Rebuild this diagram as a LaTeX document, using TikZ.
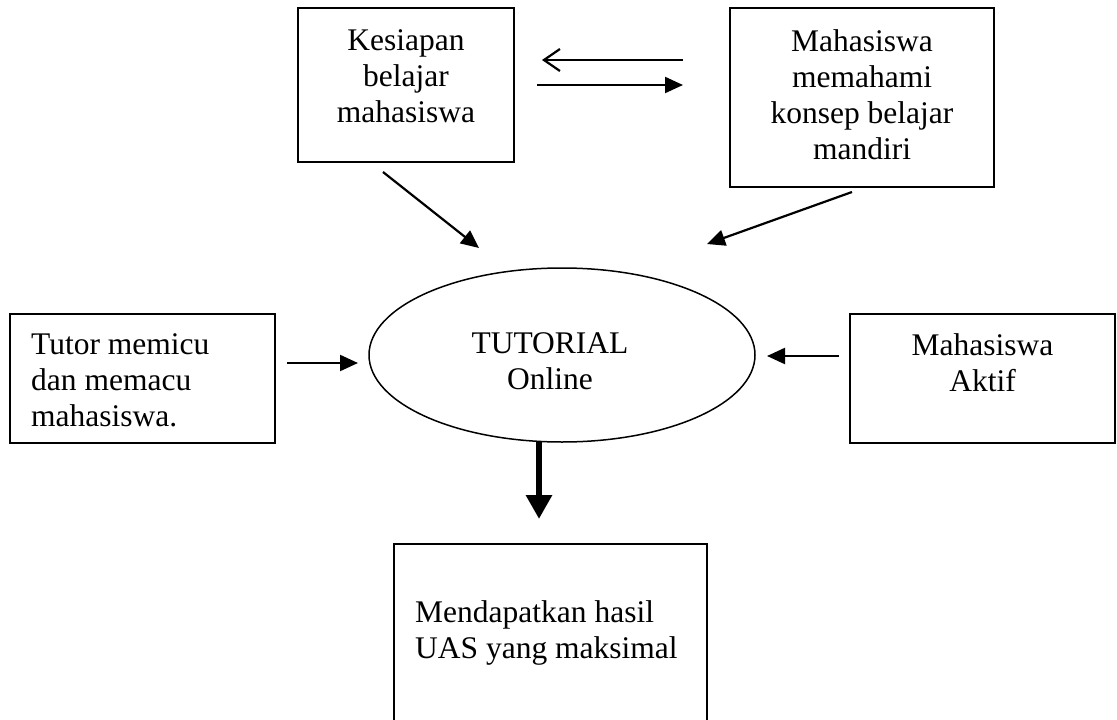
\documentclass[tikz,border=0pt]{standalone}
\usepackage{fontspec}
\setmainfont{Liberation Serif}
\usetikzlibrary{shapes.geometric,arrows.meta}
\begin{document}
\begin{tikzpicture}[x=1pt,y=-1pt,
  boxnode/.style={draw,line width=1.4pt,inner sep=0pt,rectangle},
  txt/.style={inner sep=0pt,font=\fontsize{31.5}{36}\selectfont},
  conn/.style={line width=2.2pt,-{Triangle[length=18pt,width=16pt]}},
  openconn/.style={line width=2.2pt,-{Straight Barb[length=16pt,width=22pt,line width=2.2pt]}},
  thickconn/.style={line width=6pt,-{Triangle[length=24pt,width=25pt]}}]
\useasboundingbox (0,0) rectangle (1117,720);
\clip (0,0) rectangle (1117,720);
% boxes
\node[boxnode,minimum width=216pt,minimum height=154pt] (b1) at (406,85) {};
\node[boxnode,minimum width=264pt,minimum height=179pt] (b2) at (862,97.5) {};
\node[boxnode,minimum width=265pt,minimum height=129pt] (b3) at (142.5,378.5) {};
\node[boxnode,minimum width=265pt,minimum height=129pt] (b4) at (982.5,378.5) {};
\node[boxnode,minimum width=313pt,minimum height=200pt] (b5) at (550.5,644) {};
\node[draw,ellipse,line width=1.5pt,inner sep=0pt,minimum width=386pt,minimum height=174pt] (el) at (562,355) {};
% texts
\node[txt,align=center,anchor=north] (t1) at (406,29) {Kesiapan\\belajar\\mahasiswa};
\node[txt,align=center,anchor=north] (t2) at (862,29) {Mahasiswa\\memahami\\konsep belajar\\mandiri};
\node[txt,align=left,anchor=north west] (t3) at (31,333) {Tutor memicu\\dan memacu\\mahasiswa.};
\node[txt,align=center,anchor=north] (t4) at (982.5,333) {Mahasiswa\\Aktif};
\node[txt,align=center,anchor=north] (t5) at (550,332) {TUTORIAL\\Online};
\node[txt,align=left,anchor=north west] (t6) at (415,600.5) {Mendapatkan hasil\\UAS yang maksimal};
% connector end points
\coordinate (ua) at (683,60);
\coordinate (ub) at (542,60);
\coordinate (la) at (537,85);
\coordinate (lb) at (683,85);
\coordinate (d1a) at (383,172);
\coordinate (d1b) at (479,248);
\coordinate (d2a) at (852,192);
\coordinate (d2b) at (707,244);
\coordinate (ha) at (287,363);
\coordinate (hb) at (358,363);
\coordinate (ra) at (839,356);
\coordinate (rb) at (767,356);
\coordinate (va) at (539,442);
\coordinate (vb) at (539,519);
% connectors
\draw[openconn] (ua) -- (ub);
\draw[conn] (la) -- (lb);
\draw[conn] (d1a) -- (d1b);
\draw[conn] (d2a) -- (d2b);
\draw[conn] (ha) -- (hb);
\draw[conn] (ra) -- (rb);
\draw[thickconn] (va) -- (vb);
\end{tikzpicture}
\end{document}
